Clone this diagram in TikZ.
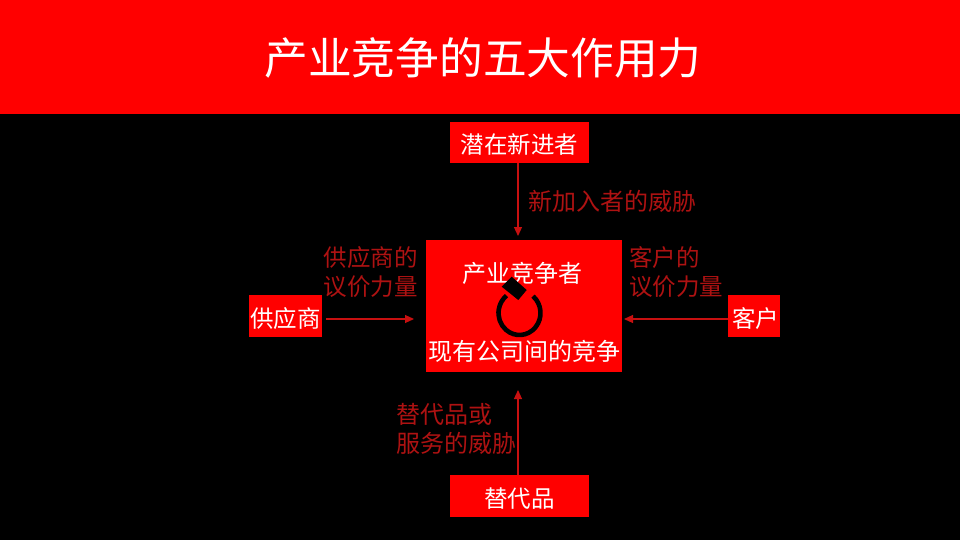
\documentclass[tikz,border=0pt]{standalone}
\usepackage{fontspec}
\setmainfont{Noto Sans CJK SC}
\usetikzlibrary{arrows.meta}
\definecolor{boxred}{HTML}{FF0000}
\definecolor{labelred}{HTML}{AE1212}
\definecolor{arrowred}{HTML}{C81010}
\newcommand{\lowered}[2]{\raisebox{#1}[0pt][0pt]{#2}}
\tikzset{
  x=1pt,y=-1pt,
  box/.style={fill=boxred,text=white,inner sep=0pt,font=\fontsize{23.5}{28}\selectfont},
  lab/.style={text=labelred,inner sep=0pt,align=left,font=\fontsize{23.5}{28.5}\selectfont},
  wide lab/.style={lab,font=\fontsize{24}{28.5}\selectfont},
  conn/.style={draw=arrowred,line width=1.1pt,-{Triangle[length=9pt,width=8pt]}},
  white text/.style={text=white,inner sep=0pt,font=\fontsize{24}{28}\selectfont},
}
\begin{document}
\begin{tikzpicture}
\useasboundingbox (0,0) rectangle (960,540);
\fill[black] (0,0) rectangle (960,540);
\node[fill=boxred,minimum width=960pt,minimum height=114pt,inner sep=0pt,text=white,font=\fontsize{43.7}{50}\selectfont] (title) at (480,57) {\hspace{6pt}\lowered{-17.5pt}{产业竞争的五大作用力}};
\node[box,minimum width=139pt,minimum height=41pt] (entrant) at (519.5,142.5) {\lowered{-11pt}{潜在新进者}};
\node[fill=boxred,minimum width=196pt,minimum height=132pt,inner sep=0pt] (rivals) at (524,306) {};
\node[box,minimum width=73pt,minimum height=42pt] (supplier) at (285.5,316) {\lowered{-11pt}{供应商}};
\node[box,minimum width=52pt,minimum height=42pt] (customer) at (754,316) {\hspace{3pt}\lowered{-11pt}{客户}};
\node[box,minimum width=139pt,minimum height=42pt] (substitute) at (519.5,496) {\lowered{-11pt}{替代品}};
\node[white text] (t1) at (522,273.5) {产业竞争者};
\node[white text] (t2) at (524.5,351) {现有公司间的竞争};
% cycle symbol
\draw[black,line width=4.6pt] (519.5,313) ++(-50:21 and 22) arc[start angle=-50,end angle=232,x radius=21,y radius=22];
\fill[black] (501.7,286.7) -- (511.7,276.7) -- (526.7,290) -- (518.3,300) -- cycle;
\node[wide lab,anchor=west] (l1) at (528,201) {新加入者的威胁};
\node[lab,anchor=east] (l2) at (418,272) {供应商的\\议价力量};
\node[lab,anchor=west] (l3) at (629,272) {客户的\\议价力量};
\node[wide lab,anchor=west] (l4) at (396,429) {替代品或\\服务的威胁};
% connectors
\coordinate (ra) at (414,319);
\coordinate (rb) at (624,319);
\coordinate (rc) at (518,236);
\coordinate (rd) at (518,390);
\draw[conn] (entrant.south -| rc) -- (rc);
\draw[conn] (supplier.east |- ra) ++(4,0) -- (ra);
\draw[conn] (customer.west |- rb) -- (rb);
\draw[conn] (substitute.north -| rd) -- (rd);
\end{tikzpicture}
\end{document}
